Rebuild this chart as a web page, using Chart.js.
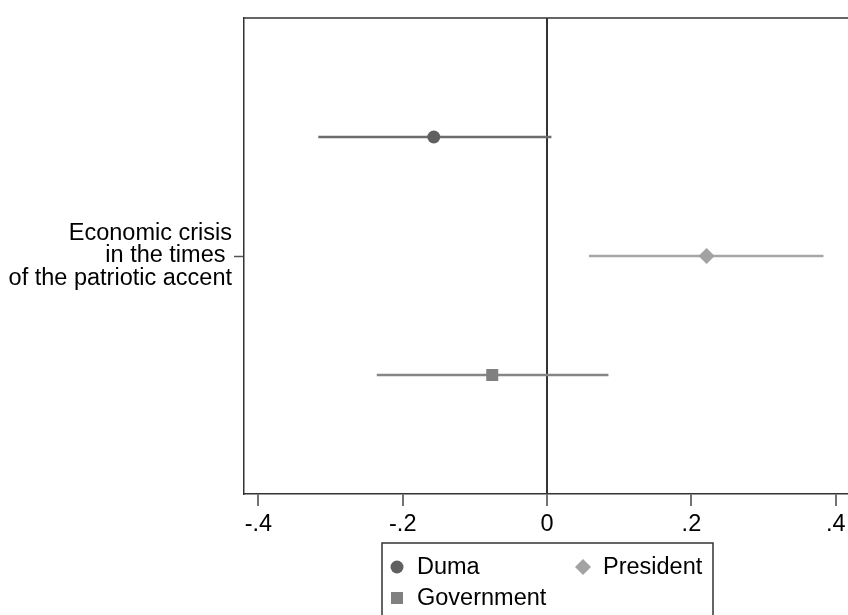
<!DOCTYPE html>
<html>
<head>
<meta charset="utf-8">
<script src="https://cdn.jsdelivr.net/npm/chart.js@4.4.1/dist/chart.umd.min.js"></script>
<style>
  html, body { margin: 0; padding: 0; background: #fff; overflow: hidden; }
  #wrap { width: 848px; height: 615px; position: relative; }
</style>
</head>
<body>
<div id="wrap"><canvas id="coefChart"></canvas></div>
<script>
const groups = ["Duma", "President", "Government"];
const estimates = [-0.157, 0.221, -0.076];
const lower = [-0.317, 0.058, -0.236];
const upper = [0.006, 0.383, 0.085];
const rows = [1, 2, 3];
const categoryLabel = ["Economic crisis", "in the times ", "of the patriotic accent"];
const categoryRow = 2;
const xTicks = [-0.4, -0.2, 0, 0.2, 0.4];

const markerColors = ["#606060", "#a2a2a2", "#808080"];
const lineColors = ["#6c6c6c", "#a6a6a6", "#868686"];
const markerStyles = ["circle", "rectRot", "rect"];
const markerSizes = [6.5, 8, 8.5];
const FONT = "'Liberation Sans', Arial, sans-serif";
const FONT_SIZE = 23.5;

const datasets = [];
groups.forEach((name, i) => {
  datasets.push({
    type: "scatter",
    label: name,
    data: [{ x: estimates[i], y: rows[i] }],
    pointStyle: markerStyles[i],
    pointRadius: markerSizes[i],
    pointHoverRadius: markerSizes[i],
    backgroundColor: markerColors[i],
    borderColor: markerColors[i],
    borderWidth: 0,
    order: 0
  });
});
groups.forEach((name, i) => {
  datasets.push({
    type: "line",
    label: name + " CI",
    ci: true,
    data: [{ x: lower[i], y: rows[i] }, { x: upper[i], y: rows[i] }],
    borderColor: lineColors[i],
    borderWidth: 2.5,
    pointRadius: 0,
    order: 1
  });
});

// top edge of the plot frame
const frameTop = {
  id: "frameTop",
  beforeDatasetsDraw(chart) {
    const { ctx, chartArea } = chart;
    ctx.save();
    ctx.strokeStyle = "#333";
    ctx.lineWidth = 1.5;
    ctx.beginPath();
    ctx.moveTo(chartArea.left, chartArea.top);
    ctx.lineTo(chartArea.right, chartArea.top);
    ctx.stroke();
    ctx.restore();
  }
};

const drawMarker = (ctx, style, x, y, r, color) => {
  ctx.fillStyle = color;
  ctx.beginPath();
  if (style === "circle") {
    ctx.arc(x, y, r, 0, Math.PI * 2);
  } else if (style === "rectRot") {
    ctx.moveTo(x, y - r);
    ctx.lineTo(x + r, y);
    ctx.lineTo(x, y + r);
    ctx.lineTo(x - r, y);
    ctx.closePath();
  } else {
    const s = r * Math.SQRT1_2;
    ctx.rect(x - s, y - s, 2 * s, 2 * s);
  }
  ctx.fill();
};

// boxed legend below the axis, two columns
const boxLegend = {
  id: "boxLegend",
  afterDraw(chart) {
    const ctx = chart.ctx;
    const items = chart.data.datasets.filter(d => !d.ci);
    const slots = [[397, 567], [583, 567], [397, 598]];
    ctx.save();
    ctx.strokeStyle = "#333";
    ctx.lineWidth = 1.5;
    ctx.strokeRect(382, 543, 331, 100);
    ctx.font = FONT_SIZE + "px " + FONT;
    ctx.textBaseline = "middle";
    ctx.textAlign = "left";
    items.forEach((d, i) => {
      const [x, y] = slots[i];
      drawMarker(ctx, d.pointStyle, x, y, d.pointRadius, d.backgroundColor);
      ctx.fillStyle = "#000";
      ctx.fillText(d.label, x + 20, y + 1);
    });
    ctx.restore();
  }
};

const ctx = document.getElementById("coefChart").getContext("2d");
const coefChart = new Chart(ctx, {
  data: { datasets },
  options: {
    responsive: true,
    maintainAspectRatio: false,
    animation: false,
    layout: { autoPadding: false, padding: { top: 18, right: 0, bottom: 0, left: 0 } },
    plugins: {
      legend: { display: false },
      tooltip: { enabled: false }
    },
    scales: {
      x: {
        type: "linear",
        position: "bottom",
        min: -0.42,
        max: 0.417,
        afterBuildTicks: scale => { scale.ticks = xTicks.map(v => ({ value: v })); },
        afterFit: scale => {
          scale.height = 121;
          scale.paddingLeft = 0;
          scale.paddingRight = 0;
        },
        ticks: {
          color: "#000",
          font: { family: FONT, size: FONT_SIZE },
          padding: 4,
          maxRotation: 0,
          callback: v => v === 0 ? "0" : (v < 0 ? "-" : "") + Math.abs(v).toFixed(1).slice(1)
        },
        grid: {
          drawOnChartArea: true,
          color: c => (c.tick && c.tick.value === 0) ? "#333" : "rgba(0,0,0,0)",
          lineWidth: 2,
          tickColor: "#444",
          tickWidth: 1.5,
          tickLength: 12
        },
        border: { display: true, color: "#333", width: 1.5 }
      },
      y: {
        type: "linear",
        position: "left",
        min: 0,
        max: 4,
        reverse: true,
        afterBuildTicks: scale => { scale.ticks = [{ value: categoryRow }]; },
        afterFit: scale => {
          scale.width = 244;
          scale.paddingTop = 0;
          scale.paddingBottom = 0;
        },
        ticks: {
          color: "#000",
          font: { family: FONT, size: FONT_SIZE, lineHeight: 0.96 },
          padding: 2,
          callback: () => categoryLabel
        },
        grid: {
          drawOnChartArea: false,
          tickColor: "#555",
          tickWidth: 1.5,
          tickLength: 10
        },
        border: { display: true, color: "#333", width: 1.5 }
      }
    }
  },
  plugins: [frameTop, boxLegend]
});
</script>
</body>
</html>
